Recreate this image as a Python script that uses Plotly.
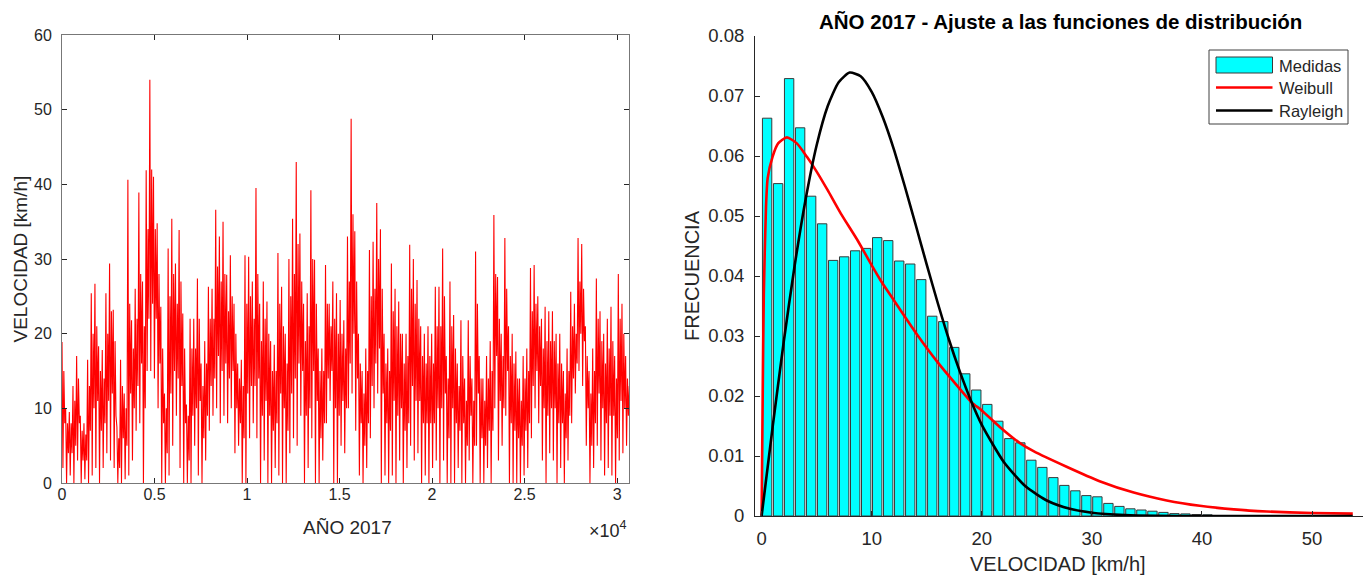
import numpy as np
import plotly.graph_objects as go

# ---------------- Left panel: wind speed series ----------------
# For each short stretch of the record: main peak, dip, secondary peak, mid-level value.
n_muestras = 30660
picos = [
    18.9, 10, 9.5, 13, 17, 9, 8, 16.5, 25.4, 26.7, 18.3, 17.8, 25.4, 29.4, 23.2, 7.5, 16.5, 12,
    40.6, 21.8, 26, 38.9, 27, 41.9, 54, 41, 34.8, 23.6, 12, 31.4, 35.4, 29.4, 33.9, 22.7, 10.5,
    22, 22, 27.4, 16, 19, 26.3, 26, 36.6, 33, 35, 27.9, 30.5, 24, 16, 16.5, 30.5, 30.3,
    27, 39.5, 24, 27, 24.3, 19, 18.5, 30.8, 26.3, 20, 30, 35.4, 43, 33.4, 24, 25.4, 39.2, 29.9,
    18, 18, 29.2, 24, 27, 25.4, 24.5, 21.8, 33, 48.8, 33.7, 20, 15, 18, 31.2, 32.3, 37.5, 34,
    20, 18, 29.4, 26, 24.3, 20, 20, 31.9, 30, 27.2, 21, 20, 21, 20, 26.3,
    26.3, 31.4, 17, 27, 22.5, 16, 21.8, 14, 21.8, 14, 31, 17, 14, 17, 19, 35.9, 27.6, 20, 32.8,
    21, 20, 17.6, 14, 17, 18, 28.8, 29.2, 25, 22, 23.6, 23, 23, 20, 20, 15, 18, 25.6, 24, 32.8,
    32, 21, 15, 18, 27.4, 23, 20, 22, 23.6, 17, 28, 24, 17,
]
valles = [
    2, 0, 1, 0, 3, 0, 0.5, 0, 1, 2, 0, 2, 4, 3, 2, 0, 0, 0.5, 1, 3, 7, 8, 0, 15, 15, 14, 10, 0,
    0, 1, 5, 9, 2, 0, 0, 0, 5, 1, 0, 3, 7, 9, 10, 8, 9, 8, 10, 4, 5, 0, 0, 6,
    8, 6, 0, 3, 0, 0, 2, 1, 0, 0, 4, 6, 5, 9, 0, 2, 6, 0, 0, 3, 8, 11, 0, 0, 5, 4, 10, 12, 7, 1,
    0, 2, 6, 10, 12, 0, 1, 0, 1, 0, 3, 0, 2, 5, 3, 4, 0, 1, 0, 2, 3,
    0, 3, 0, 0, 0, 2, 0, 0, 3, 0, 5, 0, 0, 2, 0, 10, 3, 5, 9, 0, 0, 0, 0, 1, 2, 6, 10, 8, 3, 0,
    4, 3, 0, 2, 0, 3, 8, 12, 15, 13, 5, 0, 2, 5, 3, 1, 2, 1, 0, 3, 4, 5,
]
picos_sec = [
    15, 8, 8, 11, 14, 7, 6.5, 13, 20, 21, 15, 14, 20, 23, 19, 6, 13, 10, 24, 18, 22, 28, 21, 34,
    42, 34, 28, 18, 10, 25, 28, 24, 27, 18, 9, 18, 18, 22, 13, 16, 22, 22, 29, 27, 28, 23, 25,
    20, 14, 13, 24, 25,
    22, 28, 19, 22, 20, 15, 15, 24, 21, 16, 25, 28, 32, 27, 19, 21, 30, 24, 15, 15, 24, 21, 22,
    20, 20, 18, 27, 36, 27, 16, 12, 15, 25, 26, 30, 26, 16, 15, 23, 21, 20, 16, 17, 26, 24, 22,
    17, 16, 17, 16, 21,
    21, 25, 14, 21, 18, 13, 17, 11, 17, 11, 24, 14, 11, 14, 15, 28, 22, 17, 26, 17, 16, 14, 11,
    14, 15, 23, 24, 21, 18, 19, 19, 19, 16, 16, 12, 15, 21, 20, 27, 26, 17, 12, 15, 22, 19, 16,
    18, 19, 14, 22, 20, 14,
]
valles_sec = [
    8, 4, 4, 5, 8, 3, 3, 7, 10, 11, 7, 8, 11, 12, 9, 2, 6, 5, 12, 10, 13, 16, 10, 22, 24, 22, 16,
    8, 4, 12, 15, 14, 13, 8, 3, 9, 10, 11, 6, 9, 13, 14, 17, 15, 16, 14, 15, 10, 8, 6, 12, 13,
    13, 14, 9, 11, 9, 7, 8, 12, 10, 7, 12, 14, 16, 15, 9, 10, 15, 11, 6, 8, 14, 15, 10, 9, 11, 10,
    16, 20, 14, 8, 5, 8, 13, 16, 18, 12, 8, 7, 11, 9, 10, 7, 8, 13, 11, 11, 8, 8, 8, 8, 10,
    10, 12, 6, 10, 8, 7, 8, 5, 9, 5, 12, 6, 5, 7, 7, 17, 11, 10, 15, 8, 7, 6, 5, 7, 8, 13, 15, 13,
    10, 9, 10, 10, 8, 8, 6, 9, 14, 16, 20, 19, 10, 5, 8, 12, 10, 8, 9, 9, 6, 11, 10, 9,
]
valor_final = 13

velocidad = []
for p, v, p2, v2 in zip(picos, valles, picos_sec, valles_sec):
    velocidad.extend([p, v, p2, v2])
velocidad.append(valor_final)
muestra = np.linspace(0, n_muestras, len(velocidad))
x_tickvals = [0, 5000, 10000, 15000, 20000, 25000, 30000]
x_ticktext = ["0", "0.5", "1", "1.5", "2", "2.5", "3"]

# ---------------- Right panel: histogram + fitted curves ----------------
centros = [0.5, 1.5, 2.5, 3.5, 4.5, 5.5, 6.5, 7.5, 8.5, 9.5, 10.5, 11.5, 12.5, 13.5,
           14.5, 15.5, 16.5, 17.5, 18.5, 19.5, 20.5, 21.5, 22.5, 23.5, 24.5, 25.5,
           26.5, 27.5, 28.5, 29.5, 30.5, 31.5, 32.5, 33.5, 34.5, 35.5, 36.5, 37.5,
           38.5, 39.5, 40.5]
frecuencia = [0.0663, 0.0554, 0.0729, 0.0647, 0.0533, 0.0487, 0.0426, 0.0432, 0.0442,
              0.0446, 0.0464, 0.0459, 0.0425, 0.0420, 0.0394, 0.0333, 0.0324, 0.0281,
              0.0237, 0.0210, 0.0186, 0.0158, 0.0129, 0.0122, 0.0093, 0.0081, 0.0064,
              0.0051, 0.0042, 0.0034, 0.0032, 0.0021, 0.0016, 0.0012, 0.0010, 0.0008,
              0.0006, 0.0004, 0.00035, 0.00025, 0.0002]

weibull_x = [0, 0.1, 0.2, 0.4, 0.55, 1.0, 1.5, 2.3, 3.2, 4.1, 5.0, 6.0, 7.2, 8.7, 9.9,
             10.8, 12, 14.1, 16, 18, 19.1, 20, 21.66, 23.5, 24.7, 27.7, 30.7, 33.8,
             36.8, 39.8, 42.9, 45.9, 50, 53.7]
weibull_y = [0, 0.020, 0.037, 0.0516, 0.0563, 0.0599, 0.0621, 0.0631, 0.0621, 0.0599,
             0.0574, 0.0543, 0.0504, 0.0460, 0.0421, 0.0393, 0.0360, 0.0303, 0.0256,
             0.0212, 0.0189, 0.0176, 0.0148, 0.0121, 0.0108, 0.0082, 0.0058, 0.0039,
             0.0026, 0.0017, 0.0011, 0.00075, 0.0005, 0.0004]

rayleigh_x = [0, 1, 2, 3, 4, 5, 6, 7, 8, 9, 10, 11, 12, 13, 14, 15, 16, 17, 18, 19, 20,
              22, 24, 26, 28, 30, 33, 36, 40, 45, 50, 53.7]
rayleigh_y = [0, 0.0148, 0.0289, 0.0417, 0.0528, 0.0618, 0.0683, 0.0723, 0.0739,
              0.0733, 0.0707, 0.0665, 0.0612, 0.0550, 0.0485, 0.0419, 0.0355, 0.0295,
              0.0241, 0.0193, 0.0152, 0.0090, 0.0049, 0.0025, 0.0012, 0.00055,
              0.00015, 0.00003, 0, 0, 0, 0]

leyenda = ["Medidas", "Weibull", "Rayleigh"]

W, H = 1371, 579
FONT = "Liberation Sans, Arial, sans-serif"
AX = "#262626"

fig = go.Figure()
fig.add_trace(go.Scatter(x=muestra, y=velocidad, mode="lines",
                         line=dict(color="#ff0000", width=1.1),
                         xaxis="x", yaxis="y", showlegend=False))
fig.add_trace(go.Bar(x=centros, y=frecuencia, width=0.85, name=leyenda[0],
                     marker=dict(color="#00ffff", line=dict(color="#3a3a3a", width=1)),
                     xaxis="x2", yaxis="y2", showlegend=False))
fig.add_trace(go.Scatter(x=weibull_x, y=weibull_y, mode="lines", name=leyenda[1],
                         line=dict(color="#ff0000", width=2.6, shape="spline", smoothing=0.6),
                         xaxis="x2", yaxis="y2", showlegend=False))
fig.add_trace(go.Scatter(x=rayleigh_x, y=rayleigh_y, mode="lines", name=leyenda[2],
                         line=dict(color="#000000", width=2.6, shape="spline", smoothing=0.6),
                         xaxis="x2", yaxis="y2", showlegend=False))


def axstyle(size):
    return dict(showgrid=False, zeroline=False, showline=True, linewidth=1,
                ticks="inside", ticklen=5, tickwidth=1, tickcolor=AX,
                tickfont=dict(family=FONT, size=size, color=AX))


def px_x(p):
    return p / W


def px_y(p):
    return 1 - p / H


# manual MATLAB-style legend
shapes = [
    dict(type="rect", xref="paper", yref="paper", x0=px_x(1209), x1=px_x(1348),
         y0=px_y(124), y1=px_y(50), line=dict(color="#404040", width=1),
         fillcolor="white", layer="above"),
    dict(type="rect", xref="paper", yref="paper", x0=px_x(1216), x1=px_x(1272.5),
         y0=px_y(73), y1=px_y(57), line=dict(color="#3a3a3a", width=1),
         fillcolor="#00ffff", layer="above"),
    dict(type="line", xref="paper", yref="paper", x0=px_x(1216), x1=px_x(1272.5),
         y0=px_y(87.5), y1=px_y(87.5), line=dict(color="#ff0000", width=2.6),
         layer="above"),
    dict(type="line", xref="paper", yref="paper", x0=px_x(1216), x1=px_x(1272.5),
         y0=px_y(110.5), y1=px_y(110.5), line=dict(color="#000000", width=2.6),
         layer="above"),
]

annotations = [
    dict(text="AÑO 2017", x=px_x(347.5), y=px_y(527)),
    dict(text="VELOCIDAD [km/h]", x=px_x(19.5), y=px_y(259), textangle=-90),
    dict(text="×10<sup>4</sup>", x=px_x(608), y=px_y(529), size=18),
    dict(text="<b>AÑO 2017 - Ajuste a las funciones de distribución</b>",
         x=px_x(1060.5), y=px_y(21), size=20.5, color="#000000"),
    dict(text="VELOCIDAD [km/h]", x=px_x(1057.5), y=px_y(564), size=20),
    dict(text="FRECUENCIA", x=px_x(692), y=px_y(276), textangle=-90, size=20),
    dict(text=leyenda[0], x=px_x(1277), y=px_y(65.5), size=16.5, xanchor="left"),
    dict(text=leyenda[1], x=px_x(1277), y=px_y(88), size=16.5, xanchor="left"),
    dict(text=leyenda[2], x=px_x(1277), y=px_y(111), size=16.5, xanchor="left"),
]
ann_list = []
for a in annotations:
    ann_list.append(dict(
        text=a["text"], x=a["x"], y=a["y"], xref="paper", yref="paper",
        showarrow=False, textangle=a.get("textangle", 0),
        font=dict(family=FONT, size=a.get("size", 19), color=a.get("color", AX)),
        xanchor=a.get("xanchor", "center"), yanchor="middle"))

fig.update_layout(
    width=W, height=H,
    margin=dict(l=0, r=0, t=0, b=0, autoexpand=False),
    paper_bgcolor="white", plot_bgcolor="white",
    font=dict(family=FONT, color=AX),
    showlegend=False,
    xaxis=dict(domain=[px_x(62), px_x(629.3)], range=[0, n_muestras], anchor="y",
               tickvals=x_tickvals, ticktext=x_ticktext, linecolor="#777777",
               mirror="ticks", ticklabelstandoff=-3, **axstyle(16)),
    yaxis=dict(domain=[px_y(483), px_y(35)], range=[0, 60], dtick=10, anchor="x",
               linecolor="#777777", mirror="ticks", ticklabelstandoff=6, **axstyle(16)),
    xaxis2=dict(domain=[px_x(755), px_x(1362.7)], range=[-0.6, 54.6], anchor="y2",
                tickvals=[0, 10, 20, 30, 40, 50], linecolor=AX,
                ticklabelstandoff=6, **axstyle(18.5)),
    yaxis2=dict(domain=[px_y(516), px_y(36)], range=[0, 0.08], dtick=0.01,
                anchor="x2", linecolor=AX, ticklabelstandoff=6, **axstyle(18.5)),
    shapes=shapes,
    annotations=ann_list,
)

# remove the browser's default 8px page margin so the figure sits at (0, 0)
fig.write_html("out.html", include_plotlyjs=True, full_html=True,
               config={"displayModeBar": False},
               post_script="document.body.style.margin='0';")
